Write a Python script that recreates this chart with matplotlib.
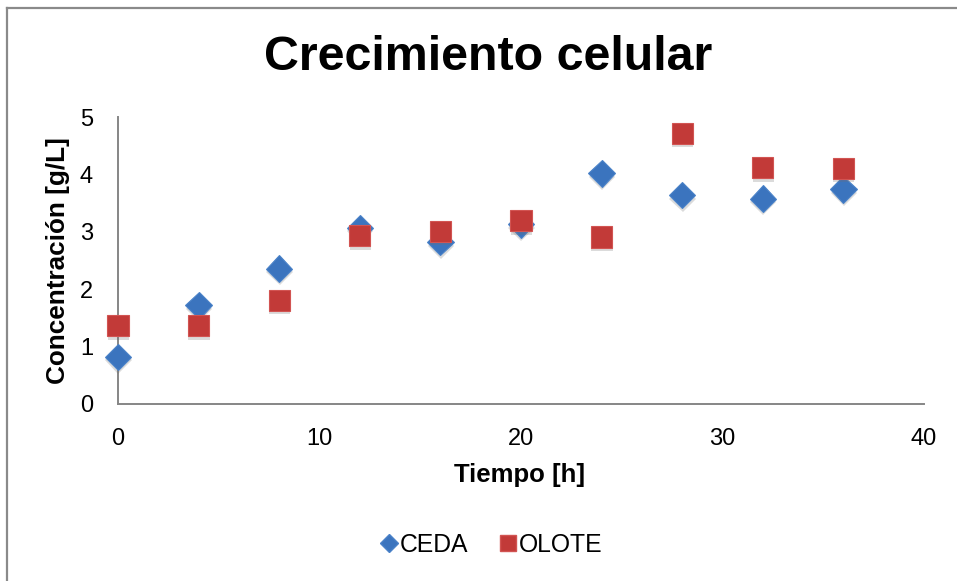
import matplotlib
matplotlib.use("Agg")
import matplotlib.pyplot as plt
import matplotlib.patheffects as pe
from matplotlib.lines import Line2D

plt.rcParams['font.family'] = ['Liberation Sans', 'DejaVu Sans']

# Sampling times [h]
tiempo = [0, 4, 8, 12, 16, 20, 24, 28, 32, 36]
# Cell concentration [g/L]
ceda = [0.82, 1.72, 2.36, 3.07, 2.82, 3.13, 4.02, 3.64, 3.58, 3.74]
olote = [1.36, 1.36, 1.81, 2.93, 3.01, 3.19, 2.91, 4.72, 4.12, 4.11]

x_ticks = [0, 10, 20, 30, 40]
y_ticks = [0, 1, 2, 3, 4, 5]

W, H = 957, 581
fig = plt.figure(figsize=(W / 100, H / 100), dpi=100)
fig.patch.set_facecolor('white')

# chart-area frame (runs off the right and bottom edges)
frame_kw = dict(color='#8a8a8a', lw=1.6, transform=fig.transFigure)
fig.add_artist(Line2D([7.5 / W, 7.5 / W], [1 - 8 / H, -0.05], **frame_kw))
fig.add_artist(Line2D([7.5 / W, 1.05], [1 - 8 / H, 1 - 8 / H], **frame_kw))

left, right, top, bottom = 118, 924, 117, 404
ax = fig.add_axes([left / W, 1 - bottom / H, (right - left) / W, (bottom - top) / H])
ax.set_xlim(0, 40)
ax.set_ylim(0, 5)
ax.set_xticks(x_ticks)
ax.set_yticks(y_ticks)
for s in ('top', 'right'):
    ax.spines[s].set_visible(False)
for s in ('left', 'bottom'):
    ax.spines[s].set_color('#868686')
    ax.spines[s].set_linewidth(1.4)
ax.tick_params(length=0, labelsize=17, colors='black')
ax.tick_params(axis='x', pad=17)
ax.tick_params(axis='y', pad=18)

shadow = [pe.SimplePatchShadow(offset=(0.3, -2.5), shadow_rgbFace='#707070', alpha=0.25), pe.Normal()]

ax.plot(tiempo, ceda, linestyle='none', marker='D', markersize=13.5,
        markerfacecolor='#3B74BE', markeredgecolor='#4A82C8', markeredgewidth=0.8,
        clip_on=False, zorder=3, path_effects=shadow, label='CEDA')
ax.plot(tiempo, olote, linestyle='none', marker='s', markersize=15.2,
        markerfacecolor='#C23A38', markeredgecolor='#D25452', markeredgewidth=0.8,
        clip_on=False, zorder=4, path_effects=shadow, label='OLOTE')

fig.text(488 / W, 1 - 57 / H, 'Crecimiento celular', ha='center', va='center',
         fontsize=34.8, fontweight='bold')
fig.text(520 / W, 1 - 475 / H, 'Tiempo [h]', ha='center', va='center',
         fontsize=18.5, fontweight='bold')
fig.text(58 / W, 1 - 261 / H, 'Concentración [g/L]', ha='center', va='center',
         rotation=90, fontsize=18.8, fontweight='bold')

handles = [
    Line2D([], [], linestyle='none', marker='D', markersize=9,
           markerfacecolor='#3B74BE', markeredgecolor='#4A82C8'),
    Line2D([], [], linestyle='none', marker='s', markersize=12,
           markerfacecolor='#C23A38', markeredgecolor='#D25452'),
]
fig.legend(handles, ['CEDA', 'OLOTE'], loc='center', bbox_to_anchor=(492 / W, 1 - 545 / H),
           ncol=2, frameon=False, fontsize=17.8, handlelength=0.6, handletextpad=0.15,
           columnspacing=1.3, borderpad=0)

fig.savefig('out.png', dpi=100, facecolor='white')
